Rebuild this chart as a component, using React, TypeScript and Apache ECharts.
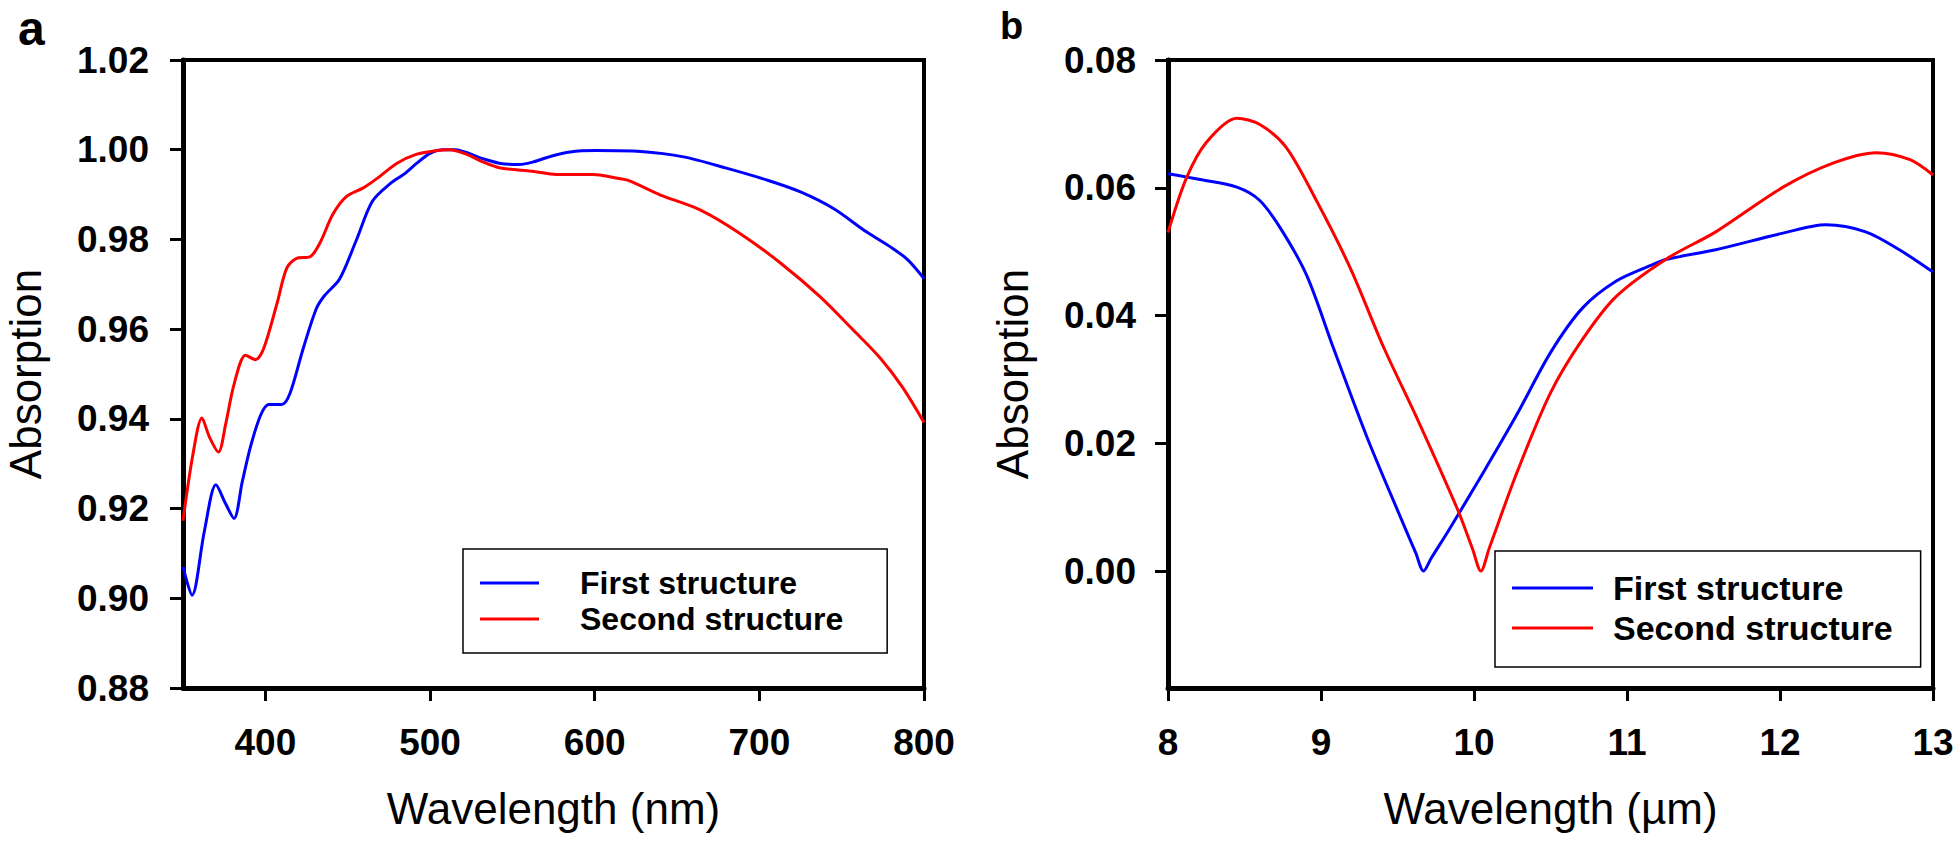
import React, { useEffect, useRef } from "react";
import * as echarts from "echarts";

// ---------- Panel a: visible wavelength (nm) ----------
const visBlueX = [350, 355.5, 363, 370, 376, 381, 386, 391, 397, 402, 410, 415, 423, 431, 436, 445, 455, 465, 476, 484, 492, 500, 508, 515, 532, 542, 554, 563, 573, 585, 601, 628, 654, 680, 705, 725, 745, 765, 781, 790, 800];
const visBlueY = [0.907, 0.9007, 0.915, 0.9253, 0.921, 0.9178, 0.926, 0.9338, 0.9407, 0.9432, 0.9432, 0.9457, 0.9557, 0.9646, 0.9675, 0.9711, 0.9796, 0.9885, 0.9925, 0.9945, 0.997, 0.9992, 1.0, 1.0, 0.998, 0.997, 0.9967, 0.9973, 0.9985, 0.9995, 0.9998, 0.9996, 0.9984, 0.9959, 0.9932, 0.9906, 0.9869, 0.9817, 0.978, 0.9755, 0.9713];

const visRedX = [350, 356, 361.5, 366, 371.5, 376, 381, 388, 394, 399, 407, 413, 419, 427, 433, 441, 449, 459.5, 467.5, 480, 492, 502, 512, 522, 532, 542, 562, 577, 599, 613, 620, 640, 664, 688, 713, 737, 757, 773.5, 787, 800];
const visRedY = [0.9173, 0.932, 0.9402, 0.936, 0.9326, 0.939, 0.9477, 0.9542, 0.9532, 0.9557, 0.9656, 0.9736, 0.9758, 0.9761, 0.9791, 0.9856, 0.9895, 0.9915, 0.9935, 0.997, 0.999, 0.9997, 1.0, 0.999, 0.9973, 0.996, 0.9952, 0.9945, 0.9945, 0.9937, 0.9932, 0.9899, 0.9866, 0.9814, 0.9747, 0.9672, 0.9598, 0.9535, 0.947, 0.9392];

// ---------- Panel b: infrared wavelength (µm) ----------
const irBlueX = [8.0, 8.21, 8.45, 8.6, 8.75, 8.91, 9.08, 9.3, 9.52, 9.62, 9.67, 9.72, 9.84, 10.06, 10.28, 10.5, 10.71, 10.93, 11.15, 11.26, 11.58, 12.02, 12.3, 12.56, 12.78, 13.0];
const irBlueY = [0.0622, 0.0613, 0.0601, 0.058, 0.0531, 0.0461, 0.035, 0.021, 0.0084, 0.0028, 0.0, 0.002, 0.0066, 0.0154, 0.0245, 0.0342, 0.0412, 0.0454, 0.0478, 0.0488, 0.0503, 0.0529, 0.0542, 0.0531, 0.0503, 0.0468];

const irRedX = [8.0, 8.12, 8.25, 8.45, 8.6, 8.77, 8.97, 9.19, 9.41, 9.63, 9.89, 9.99, 10.045, 10.1, 10.28, 10.5, 10.71, 10.93, 11.26, 11.58, 12.02, 12.35, 12.63, 12.85, 13.0];
const irRedY = [0.053, 0.0615, 0.0671, 0.0709, 0.0699, 0.0664, 0.058, 0.0475, 0.035, 0.0238, 0.0098, 0.0035, 0.0, 0.0036, 0.0154, 0.0279, 0.0363, 0.043, 0.0489, 0.0531, 0.0601, 0.0639, 0.0655, 0.0644, 0.062];

const seriesNames = ["First structure", "Second structure"];
const panelLabels = ["a", "b"];
const xTitles = ["Wavelength (nm)", "Wavelength (\u00b5m)"];
const yTitle = "Absorption";

const FONT = "'Liberation Sans', Arial, Helvetica, sans-serif";
const BLUE = "#0000ff";
const RED = "#ff0000";

const pairs = (xs: number[], ys: number[]) => xs.map((x, i) => [x, ys[i]]);

function axisCommon() {
  return {
    axisLine: { show: true, onZero: false, lineStyle: { color: "#000", width: 5 } },
    axisTick: { show: true, inside: false, length: 13, lineStyle: { color: "#000", width: 3 } },
    splitLine: { show: false },
    nameTextStyle: { fontFamily: FONT, fontSize: 44, color: "#000", fontWeight: "normal" },
  };
}

function legendFor(left: number, top: number, fontSize: number, lineH: number, pad: number[], textPadLeft: number, iconW: number) {
  return {
    show: true,
    orient: "vertical",
    left,
    top,
    itemGap: 0,
    itemWidth: iconW,
    itemHeight: 3,
    icon: "rect",
    padding: pad,
    borderColor: "#000",
    borderWidth: 1.5,
    backgroundColor: "#fff",
    selectedMode: false,
    textStyle: {
      fontFamily: FONT,
      fontSize,
      fontWeight: "bold",
      color: "#000",
      lineHeight: lineH,
      padding: [0, 0, 0, textPadLeft],
    },
    data: seriesNames,
  };
}

export default function App() {
  const ref = useRef<HTMLDivElement>(null);

  useEffect(() => {
    if (!ref.current) return;
    const chart = echarts.init(ref.current, null, { renderer: "svg" });
    const c = axisCommon();
    const option: any = {
      animation: false,
      backgroundColor: "#fff",
      grid: [
        { left: 183, top: 60, width: 741, height: 628, show: true, borderColor: "#000", borderWidth: 4, backgroundColor: "transparent" },
        { left: 1168, top: 60, width: 765, height: 628, show: true, borderColor: "#000", borderWidth: 4, backgroundColor: "transparent" },
      ],
      xAxis: [
        {
          ...c,
          type: "value",
          gridIndex: 0,
          min: 350,
          max: 800,
          minInterval: 100,
          maxInterval: 100,
          name: xTitles[0],
          nameLocation: "middle",
          nameGap: 98,
          axisLabel: { showMinLabel: false, margin: 36, fontFamily: FONT, fontSize: 37, fontWeight: "bold", color: "#000" },
        },
        {
          ...c,
          type: "value",
          gridIndex: 1,
          min: 8,
          max: 13,
          interval: 1,
          name: xTitles[1],
          nameLocation: "middle",
          nameGap: 98,
          axisLabel: { margin: 36, fontFamily: FONT, fontSize: 37, fontWeight: "bold", color: "#000" },
        },
      ],
      yAxis: [
        {
          ...c,
          type: "value",
          gridIndex: 0,
          min: 0.88,
          max: 1.02,
          minInterval: 0.02,
          maxInterval: 0.02,
          name: yTitle,
          nameLocation: "middle",
          nameGap: 136,
          axisLabel: { margin: 34, fontFamily: FONT, fontSize: 37, fontWeight: "bold", color: "#000", formatter: (v: number) => v.toFixed(2) },
        },
        {
          ...c,
          type: "value",
          gridIndex: 1,
          min: -0.0183,
          max: 0.08,
          minInterval: 0.02,
          maxInterval: 0.02,
          name: yTitle,
          nameLocation: "middle",
          nameGap: 134,
          axisLabel: {
            margin: 32,
            showMinLabel: false,
            fontFamily: FONT,
            fontSize: 37,
            fontWeight: "bold",
            color: "#000",
            formatter: (v: number) => (v < -0.001 ? "" : v.toFixed(2)),
          },
        },
      ],
      legend: [
        legendFor(463, 549, 32, 36, [16, 44, 16, 17], 36, 59),
        legendFor(1495, 551, 34, 40, [17, 28, 19, 17], 15, 81),
      ],
      series: [
        { name: seriesNames[0], type: "line", xAxisIndex: 0, yAxisIndex: 0, data: pairs(visBlueX, visBlueY), showSymbol: false, smooth: 0.3, color: BLUE, lineStyle: { width: 3, color: BLUE } },
        { name: seriesNames[1], type: "line", xAxisIndex: 0, yAxisIndex: 0, data: pairs(visRedX, visRedY), showSymbol: false, smooth: 0.3, color: RED, lineStyle: { width: 3, color: RED } },
        { name: seriesNames[0], type: "line", xAxisIndex: 1, yAxisIndex: 1, data: pairs(irBlueX, irBlueY), showSymbol: false, smooth: 0.3, color: BLUE, lineStyle: { width: 3, color: BLUE } },
        { name: seriesNames[1], type: "line", xAxisIndex: 1, yAxisIndex: 1, data: pairs(irRedX, irRedY), showSymbol: false, smooth: 0.3, color: RED, lineStyle: { width: 3, color: RED } },
      ],
      graphic: [
        { type: "text", x: 18, y: 28, style: { text: panelLabels[0], font: `bold 48px ${FONT}`, fill: "#000", verticalAlign: "middle" } },
        { type: "text", x: 1000, y: 26, style: { text: panelLabels[1], font: `bold 38px ${FONT}`, fill: "#000", verticalAlign: "middle" } },
      ],
    };
    chart.setOption(option);
    return () => chart.dispose();
  }, []);

  return (
    <div
      ref={ref}
      style={{ position: "fixed", left: 0, top: 0, width: 1960, height: 844, background: "#fff" }}
    />
  );
}
